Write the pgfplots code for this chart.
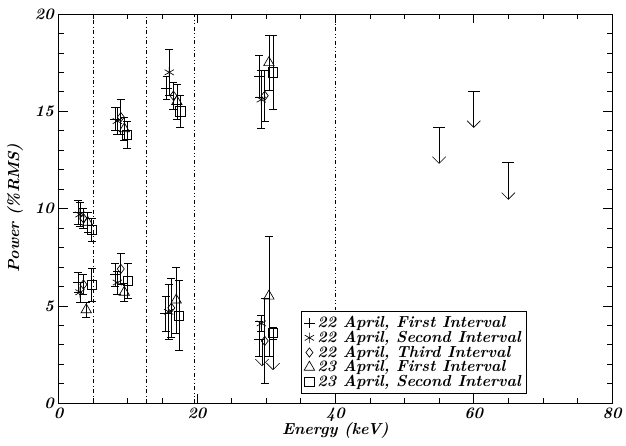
\documentclass[border=0pt]{standalone}
\usepackage{pgfplots}
\pgfplotsset{compat=1.18}
\usetikzlibrary{arrows.meta}

% x  y  err
\pgfplotstableread{
x y e
2.8 9.8 0.6
2.8 6.2 0.5
8.2 14.6 0.6
8.2 6.6 0.6
15.6 16.2 0.6
15.5 4.6 0.9
29.0 16.8 1.1
29.0 3.3 0.9
}\aprA
\pgfplotstableread{
x y e
3.1 9.7 0.6
3.1 5.7 0.5
8.5 14.5 0.7
8.5 6.2 0.6
16.0 17.0 1.2
15.9 4.7 1.4
29.3 15.6 1.5
29.3 4.1 0.4
}\aprB
\pgfplotstableread{
x y e
3.6 9.5 0.5
3.6 6.1 0.5
9.0 14.7 0.9
9.0 6.9 0.8
16.6 15.8 0.7
16.3 4.9 1.5
29.8 15.8 1.3
29.8 3.2 2.2
}\aprC
\pgfplotstableread{
x y e
4.2 9.3 0.5
4.0 4.8 0.4
9.5 14.1 0.6
9.5 5.7 0.45
17.1 15.5 0.9
17.0 5.3 1.7
30.4 17.5 1.4
30.4 5.5 3.1
}\aprD
\pgfplotstableread{
x y e
4.8 8.9 0.6
4.8 6.1 0.85
9.9 13.8 0.7
10.0 6.3 0.9
17.6 15.0 0.8
17.4 4.5 1.8
31.0 17.0 1.9
31.0 3.6 0.3
}\aprE
% upper limits: x ytop dy
\pgfplotstableread{
x y v
55 14.2 -1.9
60 16.05 -1.9
65 12.4 -1.95
}\uplim
\pgfplotstableread{
x y v
29.4 3.3 -1.4
31.0 3.6 -1.9
}\uplimlow

\begin{document}
\begin{tikzpicture}
\begin{axis}[
    scale only axis,
    width=416pt, height=292.5pt,
    xmin=0, xmax=80, ymin=0, ymax=20,
    xtick={0,20,...,80}, ytick={0,5,...,20},
    minor x tick num=3, minor y tick num=4,
    tick align=inside,
    major tick length=7pt, minor tick length=4pt,
    tick style={black, line width=0.5pt},
    axis line style={line width=0.7pt},
    ticklabel style={font=\large\bfseries\itshape},
    /pgf/number format/assume math mode=true,
    xlabel={\bfseries\itshape Energy (keV)},
    ylabel={\bfseries\itshape Power (\%RMS)},
    label style={font=\large},
    xlabel style={yshift=6pt},
    ylabel style={yshift=2pt},
    legend style={at={(0.438,0.023)}, anchor=south west, font=\large\bfseries\itshape,
        draw=black, line width=0.6pt, row sep=-3pt, inner sep=2pt,
        legend cell align=left},
    legend image code/.code={\draw plot coordinates {(0.12cm,0cm)};},
    error bars/y dir=both, error bars/y explicit,
    error bars/error bar style={line width=0.5pt},
    error bars/error mark options={rotate=90, mark size=3pt, line width=0.5pt},
    every axis plot/.append style={black, line width=0.5pt},
]
\addplot[only marks, mark=+, mark size=4pt] table[x=x, y=y, y error=e] {\aprA};
\addplot[only marks, mark=asterisk, mark size=4pt] table[x=x, y=y, y error=e] {\aprB};
\addplot[only marks, mark=diamond, mark size=3.5pt] table[x=x, y=y, y error=e] {\aprC};
\addplot[only marks, mark=triangle, mark size=4.5pt] table[x=x, y=y, y error=e] {\aprD};
\addplot[only marks, mark=square, mark size=3.5pt] table[x=x, y=y, y error=e] {\aprE};
\legend{22 April{,} First Interval, 22 April{,} Second Interval, 22 April{,} Third Interval, 23 April{,} First Interval, 23 April{,} Second Interval}

\addplot[forget plot, {Bar[width=9pt]}-{Straight Barb[length=5pt,width=10pt]}, line width=0.5pt,
    error bars/y dir=none,
    quiver={u=0, v=\thisrow{v}}] table[x=x, y=y] {\uplim};
\addplot[forget plot, -{Straight Barb[length=5pt,width=10pt]}, line width=0.5pt,
    error bars/y dir=none,
    quiver={u=0, v=\thisrow{v}}] table[x=x, y=y] {\uplimlow};

\addplot[forget plot, dash dot, line width=0.5pt, error bars/y dir=none] coordinates {(5,0) (5,20)};
\addplot[forget plot, dash dot, line width=0.5pt, error bars/y dir=none] coordinates {(12.7,0) (12.7,20)};
\addplot[forget plot, dash dot dot, line width=0.5pt, error bars/y dir=none] coordinates {(19.6,0) (19.6,20)};
\addplot[forget plot, dash dot dot, line width=0.5pt, error bars/y dir=none] coordinates {(40,0) (40,4.9)};
\addplot[forget plot, dash dot dot, line width=0.5pt, error bars/y dir=none] coordinates {(40,20) (40,4.95)};
\end{axis}
\path ([xshift=-44pt,yshift=-32pt]current axis.south west) rectangle ([xshift=9pt,yshift=10.5pt]current axis.north east);
\end{tikzpicture}
\end{document}
